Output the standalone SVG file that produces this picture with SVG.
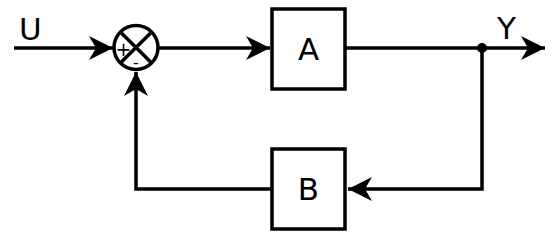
<svg xmlns="http://www.w3.org/2000/svg" width="557" height="237" viewBox="0 0 557 237">
<style>
.ln{fill:none;stroke:#000;stroke-width:3.5}
.box{fill:#fff;stroke:#000;stroke-width:3.5}
.lbl{font-family:"DejaVu Sans","Liberation Sans",sans-serif;font-size:31px;fill:#000}
.sm{font-family:"DejaVu Sans","Liberation Sans",sans-serif;fill:#000}
</style>
<defs>
<marker id="ah" markerUnits="userSpaceOnUse" markerWidth="26" markerHeight="26" viewBox="-24 -13 26 26" refX="0" refY="0" orient="auto">
<path d="M0,0 L-24,-12 L-17,0 L-24,12 Z" fill="#000"/>
</marker>
</defs>
<rect width="557" height="237" fill="#fff"/>
<g id="connectors">
<path class="ln" d="M14,48 L113,48" marker-end="url(#ah)"/>
<path class="ln" d="M158,48 L270,48" marker-end="url(#ah)"/>
<path class="ln" d="M345,48 L545,48" marker-end="url(#ah)"/>
<path class="ln" d="M482,48 L482,189 L348,189" marker-end="url(#ah)"/>
<path class="ln" d="M272,189 L136,189 L136,72" marker-end="url(#ah)"/>
<circle cx="482" cy="48" r="5" fill="#000"/>
</g>
<g id="U"><text class="lbl" x="19" y="40">U</text></g>
<g id="Y"><text class="lbl" x="497" y="39">Y</text></g>
<g id="sum">
<circle cx="136" cy="47.5" r="22" fill="#fff" stroke="#000" stroke-width="3.5"/>
<path class="ln" d="M120.4,31.9 L151.6,63.1 M151.6,31.9 L120.4,63.1"/>
<text class="sm" x="123.5" y="56" font-size="19" text-anchor="middle">+</text>
<text class="sm" x="136" y="68" font-size="16" text-anchor="middle">-</text>
</g>
<g id="A">
<rect class="box" x="272" y="9" width="73" height="80"/>
<text class="lbl" x="308.5" y="60" text-anchor="middle">A</text>
</g>
<g id="B">
<rect class="box" x="272" y="149" width="73" height="80"/>
<text class="lbl" x="308.5" y="200" text-anchor="middle">B</text>
</g>
</svg>
